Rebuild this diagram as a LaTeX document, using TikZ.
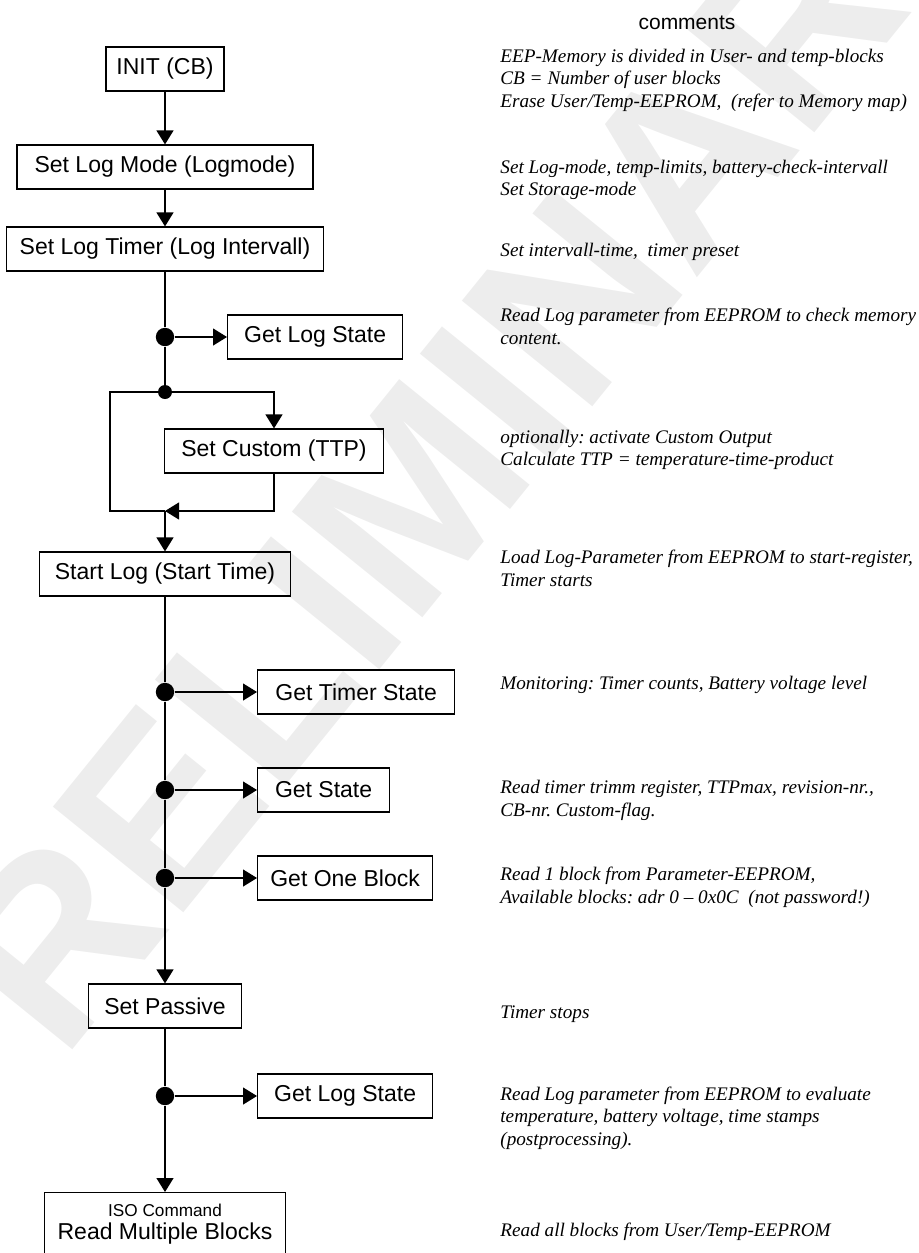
\documentclass[tikz,border=0pt]{standalone}
\usepackage{fontspec}
\setmainfont{Liberation Serif}
\setsansfont{Liberation Sans}
\usetikzlibrary{arrows.meta}
\frenchspacing

\begin{document}
\begin{tikzpicture}
[x=0.5pt,y=-0.5pt,
box/.style={draw,line width=0.6pt,inner sep=0pt,minimum height=22pt,font=\sffamily\fontsize{11.5}{13.8}\selectfont},
dot/.style={circle,fill,inner sep=0pt,minimum size=9.2pt},
small dot/.style={circle,fill,inner sep=0pt,minimum size=7pt},
note/.style={anchor=west,align=left,inner sep=0pt,font=\itshape\fontsize{9.6}{11.25}\selectfont},
flow/.style={line width=0.6pt,-{Triangle[length=7pt,width=8.5pt]}},
line/.style={line width=0.6pt}]
\useasboundingbox (0,0) rectangle (919,1253);
\clip (0,0) rectangle (919,1253);
\node[rotate=51,text=black!7,font=\sffamily\bfseries\fontsize{122}{122}\selectfont] (mark) at (421,486) {PRELIMINARY};
\node[box,minimum width=59pt] (init) at (165,69) {INIT (CB)};
\node[box,minimum width=148pt] (logmode) at (165,167) {Set Log Mode (Logmode)};
\node[box,minimum width=158.5pt] (logtimer) at (165,249) {Set Log Timer (Log Intervall)};
\node[dot] (d1) at (165,337) {};
\node[box,minimum width=87.5pt,anchor=west] (getlog1) at (227,337) {Get Log State};
\node[small dot] (split) at (165,392) {};
\coordinate (sl) at (110,392);
\coordinate (sr) at (274,392);
\node[box,minimum width=109.5pt] (custom) at (274,451) {Set Custom (TTP)};
\coordinate (jl) at (110,511);
\coordinate (jr) at (274,511);
\coordinate (join) at (165,511);
\node[box,minimum width=125.5pt] (startlog) at (165,574) {Start Log (Start Time)};
\node[dot] (d2) at (165,692) {};
\node[box,minimum width=98.5pt,anchor=west] (timerstate) at (257,692) {Get Timer State};
\node[dot] (d3) at (165,790) {};
\node[box,minimum width=66pt,anchor=west] (getstate) at (257,790) {Get State};
\node[dot] (d4) at (165,878) {};
\node[box,minimum width=87.5pt,anchor=west] (oneblock) at (257,878) {Get One Block};
\node[box,minimum width=76.5pt] (passive) at (165,1006) {Set Passive};
\node[dot] (d5) at (165,1096) {};
\node[box,minimum width=87.5pt,anchor=west] (getlog2) at (257,1096) {Get Log State};
\node[box,minimum width=120.5pt,minimum height=32pt,anchor=north,align=center] (readmulti) at (165,1192)
{{\fontsize{8.6}{10}\selectfont ISO Command}\\[-2.3pt]Read Multiple Blocks};

\path[flow] (init) edge (logmode)
(logmode) edge (logtimer);
\draw[line] (logtimer) -- (d1) -- (split);
\draw[line] (split) -- (sl) -- (jl) -- (join);
\draw[flow] (split) -- (sr) -- (custom);
\draw[flow] (custom) -- (jr) -- (join);
\draw[flow] (join) -- (startlog);
\draw[line] (startlog) -- (d2) -- (d3) -- (d4);
\draw[flow] (d4) -- (passive);
\draw[line] (passive) -- (d5);
\draw[flow] (d5) -- (readmulti);
\foreach \a/\b in {d1/getlog1,d2/timerstate,d3/getstate,d4/oneblock,d5/getlog2}
\draw[flow] (\a) -- (\b);

\node[font=\sffamily\fontsize{10.5}{12}\selectfont] (title) at (687,23) {comments};
\node[note] (cinit) at (500,80) {EEP-Memory is divided in User- and temp-blocks\\CB = Number of user blocks\\Erase User/Temp-EEPROM,~ (refer to Memory map)};
\node[note] (clogmode) at (500,180) {Set Log-mode, temp-limits, battery-check-intervall\\Set Storage-mode};
\node[note] (clogtimer) at (500,251.5) {Set intervall-time,~ timer preset};
\node[note] (cgetlog1) at (500,326.5) {Read Log parameter from EEPROM to check memory\\content.};
\node[note] (ccustom) at (500,450) {optionally: activate Custom Output\\Calculate TTP = temperature-time-product};
\node[note] (cstartlog) at (500,568.5) {Load Log-Parameter from EEPROM to start-register,\\Timer starts};
\node[note] (ctimerstate) at (500,684.5) {Monitoring: Timer counts, Battery voltage level};
\node[note] (cgetstate) at (500,800.5) {Read timer trimm register, TTPmax, revision-nr.,\\CB-nr. Custom-flag.};
\node[note] (coneblock) at (500,887.5) {Read 1 block from Parameter-EEPROM,\\Available blocks: adr 0 – 0x0C~ (not password!)};
\node[note] (cpassive) at (500,1014.5) {Timer stops};
\node[note] (cgetlog2) at (500,1118) {Read Log parameter from EEPROM to evaluate\\temperature, battery voltage, time stamps\\(postprocessing).};
\node[note] (creadmulti) at (500,1231.5) {Read all blocks from User/Temp-EEPROM};
\end{tikzpicture}
\end{document}
